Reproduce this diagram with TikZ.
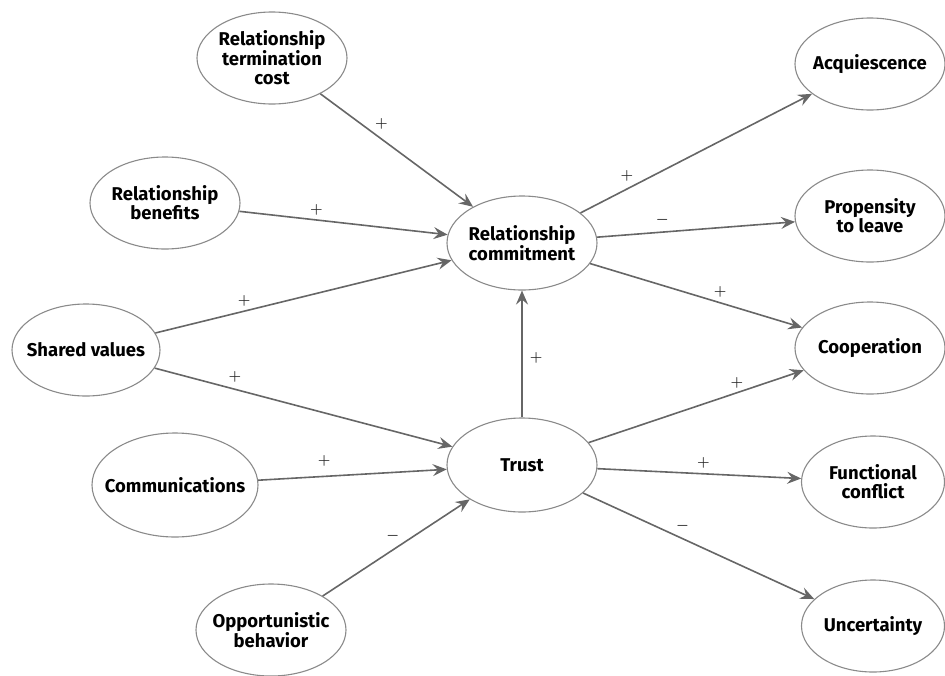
\documentclass[tikz,border=0pt]{standalone}
\usepackage{fontspec}
\setmainfont{Fira Sans}
\usetikzlibrary{shapes.geometric,arrows.meta}
\definecolor{linegray}{HTML}{666666}
\definecolor{rimgray}{HTML}{8A8A8A}

\begin{document}
\begin{tikzpicture}[x=1pt, y=-1pt,
    concept/.style={ellipse, draw=rimgray, line width=1.1pt, minimum width=150pt,
        minimum height=92pt, inner xsep=-16pt, inner ysep=-6pt, align=center,
        font=\fontsize{18.5}{19}\selectfont\bfseries},
    link/.style={->, draw=linegray, line width=1.6pt},
    sign/.style={font=\fontsize{14}{14}\selectfont\boldmath, text=black!85, inner sep=2pt},
    >={Stealth[length=14pt, width=12pt, inset=5pt]}]
    \useasboundingbox (0,0) rectangle (945,675);

    % Draw antecedents
    \node[concept] (cost) at (272,58) {Relationship\\termination\\cost};
    \node[concept] (benefits) at (165,203) {Relationship\\benefits};
    \node[concept, minimum width=148pt] (values) at (86,350) {Shared values};
    \node[concept, minimum width=166pt, minimum height=104pt] (comms) at (175,485) {Communications};
    \node[concept] (opport) at (271,630) {Opportunistic\\behavior};

    % Draw mediators
    \node[concept, minimum height=94pt] (commit) at (522,243) {Relationship\\commitment};
    \node[concept, minimum height=94pt] (trust) at (522,465) {Trust};

    % Draw outcomes
    \node[concept] (acq) at (870,64) {Acquiescence};
    \node[concept] (leave) at (870,216) {Propensity\\to leave};
    \node[concept] (coop) at (870,348) {Cooperation};
    \node[concept, minimum width=143pt] (conflict) at (873,482) {Functional\\conflict};
    \node[concept, minimum width=143pt] (uncert) at (873,626) {Uncertainty};

    % Draw links into commitment and trust
    \draw[link] (cost) -- (commit) node[sign, pos=0.34, above right] {$+$};
    \draw[link] (benefits) -- (commit) node[sign, pos=0.37, above=2pt] {$+$};
    \draw[link] (values) -- (commit) node[sign, pos=0.30, above=2pt] {$+$};
    \draw[link] (values) -- (trust) node[sign, pos=0.27, above=4pt] {$+$};
    \draw[link] (comms) -- (trust) node[sign, pos=0.35, above=7pt] {$+$};
    \draw[link] (opport) -- (trust) node[sign, pos=0.54, above left] {$-$};
    \draw[link] (trust) -- (commit) node[sign, pos=0.47, right=5pt] {$+$};

    % Draw links out of commitment and trust
    \draw[link] (commit) -- (acq) node[sign, pos=0.24, above left] {$+$};
    \draw[link] (commit) -- (leave) node[sign, pos=0.33, above=4pt] {$-$};
    \draw[link] (commit) -- (coop) node[sign, pos=0.57, above right] {$+$};
    \draw[link] (trust) -- (coop) node[sign, pos=0.69, above=2pt] {$+$};
    \draw[link] (trust) -- (conflict) node[sign, pos=0.52, above=3pt] {$+$};
    \draw[link] (trust) -- (uncert) node[sign, pos=0.39, above right] {$-$};
\end{tikzpicture}
\end{document}
